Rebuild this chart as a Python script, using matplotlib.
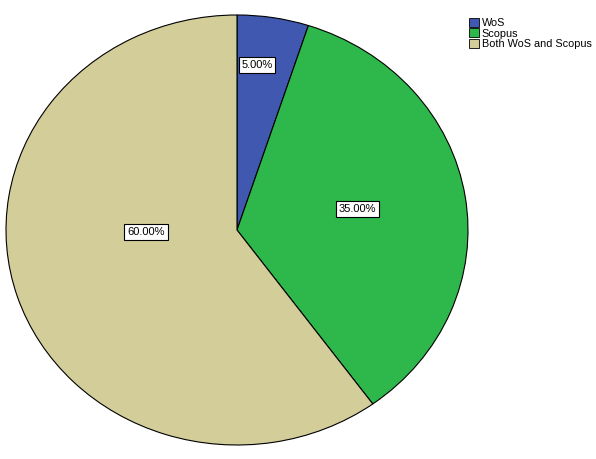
import matplotlib.pyplot as plt
from matplotlib.patches import Patch

plt.rcParams["font.family"] = ["Liberation Sans", "DejaVu Sans"]

categories = ["WoS", "Scopus", "Both WoS and Scopus"]
shares = [5.0, 35.0, 60.0]
colors = ["#4058b0", "#2eb84b", "#d3ce99"]
# where SPSS put the percentage boxes (data coords, radius = 1)
label_pos = [(0.087, 0.767), (0.52, 0.098), (-0.394, -0.009)]

fig = plt.figure(figsize=(5.96, 4.59), dpi=100)
ax = fig.add_axes([6 / 596, 14 / 459, 462 / 596, 430 / 459])

wedges, _ = ax.pie(shares, colors=colors, startangle=90, counterclock=False,
                   wedgeprops=dict(edgecolor="black", linewidth=0.8))
ax.set_aspect("auto")
ax.set_xlim(-1.0, 1.0)
ax.set_ylim(-1.0, 1.0)
ax.axis("off")

for val, (x, y) in zip(shares, label_pos):
    ax.text(x, y, f"{val:.2f}%", ha="center", va="center", fontsize=8,
            bbox=dict(boxstyle="square,pad=0.25", facecolor="white",
                      edgecolor="black", linewidth=0.8))

handles = [Patch(facecolor=c, edgecolor="black", linewidth=0.6) for c in colors]
fig.legend(handles, categories, loc="upper left", bbox_to_anchor=(469 / 596, 1 - 18 / 459),
           frameon=False, fontsize=7.85, handlelength=0.95, handleheight=0.9,
           handletextpad=0.2, labelspacing=0.0, borderpad=0, borderaxespad=0)

fig.savefig("out.png", dpi=100)
